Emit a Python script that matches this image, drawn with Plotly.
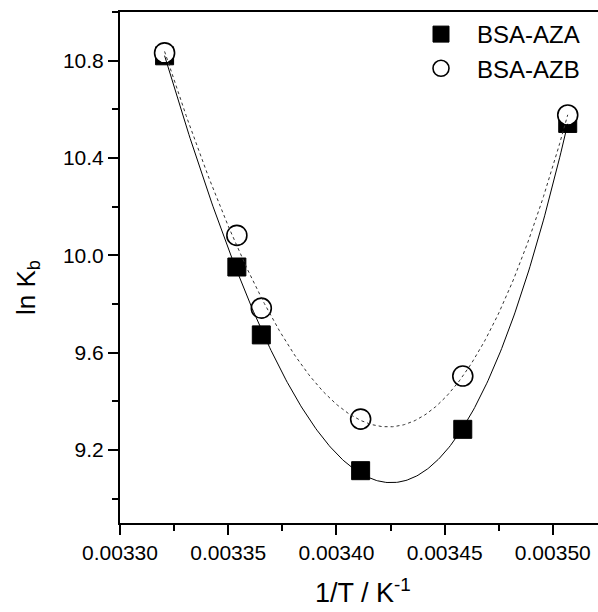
import numpy as np
import plotly.graph_objects as go

# data
inv_T = [0.0033206, 0.003354, 0.0033653, 0.0034112, 0.0034584, 0.0035069]
lnK_AZA = [10.82, 9.952, 9.673, 9.115, 9.285, 10.542]
lnK_AZB = [10.832, 10.082, 9.783, 9.327, 9.504, 10.577]
series_names = ["BSA-AZA", "BSA-AZB"]
x_tickvals = [0.00330, 0.00335, 0.00340, 0.00345, 0.00350]
x_ticktext = ["0.00330", "0.00335", "0.00340", "0.00345", "0.00350"]
y_tickvals = [9.2, 9.6, 10.0, 10.4, 10.8]
y_ticktext = ["9.2", "9.6", "10.0", "10.4", "10.8"]

FONT = "Liberation Sans, Arial, sans-serif"

# polynomial fit curves (derived from the data)
xs = np.linspace(min(inv_T), max(inv_T), 300)
xc = np.array(inv_T) - 0.0034
fitA = np.polyfit(xc, lnK_AZA, 3)
fitB = np.polyfit(xc, lnK_AZB, 3)
yA = np.polyval(fitA, xs - 0.0034)
yB = np.polyval(fitB, xs - 0.0034)

fig = go.Figure()
fig.add_trace(go.Scatter(x=inv_T, y=lnK_AZA, mode="markers", name=series_names[0],
                         marker=dict(symbol="square", size=18, color="black",
                                     line=dict(color="black", width=1))))
fig.add_trace(go.Scatter(x=inv_T, y=lnK_AZB, mode="markers", name=series_names[1],
                         marker=dict(symbol="circle", size=20, color="white",
                                     line=dict(color="black", width=1.6))))
fig.add_trace(go.Scatter(x=xs, y=yA, mode="lines", showlegend=False,
                         line=dict(color="black", width=1)))
fig.add_trace(go.Scatter(x=xs, y=yB, mode="lines", showlegend=False,
                         line=dict(color="#333333", width=1, dash="3px,3px")))

# plot area runs a few px past the window's right edge (as in the cropped original)
PW = 486  # plot width in px
fig.update_layout(
    width=120 + PW, height=612,
    margin=dict(l=120, r=0, t=12, b=89),
    paper_bgcolor="white", plot_bgcolor="white",
    font=dict(family=FONT, size=21, color="black"),
    legend=dict(x=(405 - 120) / PW, y=1.0, xanchor="left", yanchor="top",
                bgcolor="rgba(0,0,0,0)", font=dict(size=24, family=FONT),
                itemwidth=62, tracegroupgap=0),
    xaxis=dict(range=[0.0033, 0.0033 + PW / 108.2 * 0.00005],
               tickvals=x_tickvals, ticktext=x_ticktext,
               showline=True, linecolor="black", linewidth=2, mirror=True,
               ticks="outside", ticklen=10, tickwidth=2, tickcolor="black",
               showgrid=False, zeroline=False,
               minor=dict(ticks="outside", ticklen=6, tickwidth=2, tickcolor="black",
                          tick0=0.003325, dtick=0.00005, showgrid=False)),
    yaxis=dict(range=[8.9, 11.0], tickvals=y_tickvals, ticktext=y_ticktext,
               showline=True, linecolor="black", linewidth=2, mirror=False,
               ticks="outside", ticklen=10, tickwidth=2, tickcolor="black",
               showgrid=False, zeroline=False,
               minor=dict(ticks="outside", ticklen=6, tickwidth=2, tickcolor="black",
                          tick0=9.0, dtick=0.4, showgrid=False)),
    annotations=[
        dict(text="1/T / K<sup>-1</sup>", xref="paper", yref="paper",
             x=(363 - 120) / PW, y=(523 - 591) / 511, showarrow=False,
             xanchor="center", yanchor="middle", font=dict(size=27, family=FONT)),
        dict(text="ln K<sub>b</sub>", xref="paper", yref="paper",
             x=(27 - 120) / PW, y=(523 - 288) / 511, showarrow=False, textangle=-90,
             xanchor="center", yanchor="middle", font=dict(size=26, family=FONT)),
    ],
)

fig.write_html("out.html", config={"displayModeBar": False},
               post_script="document.body.style.margin='0px';document.body.style.overflow='hidden';")
